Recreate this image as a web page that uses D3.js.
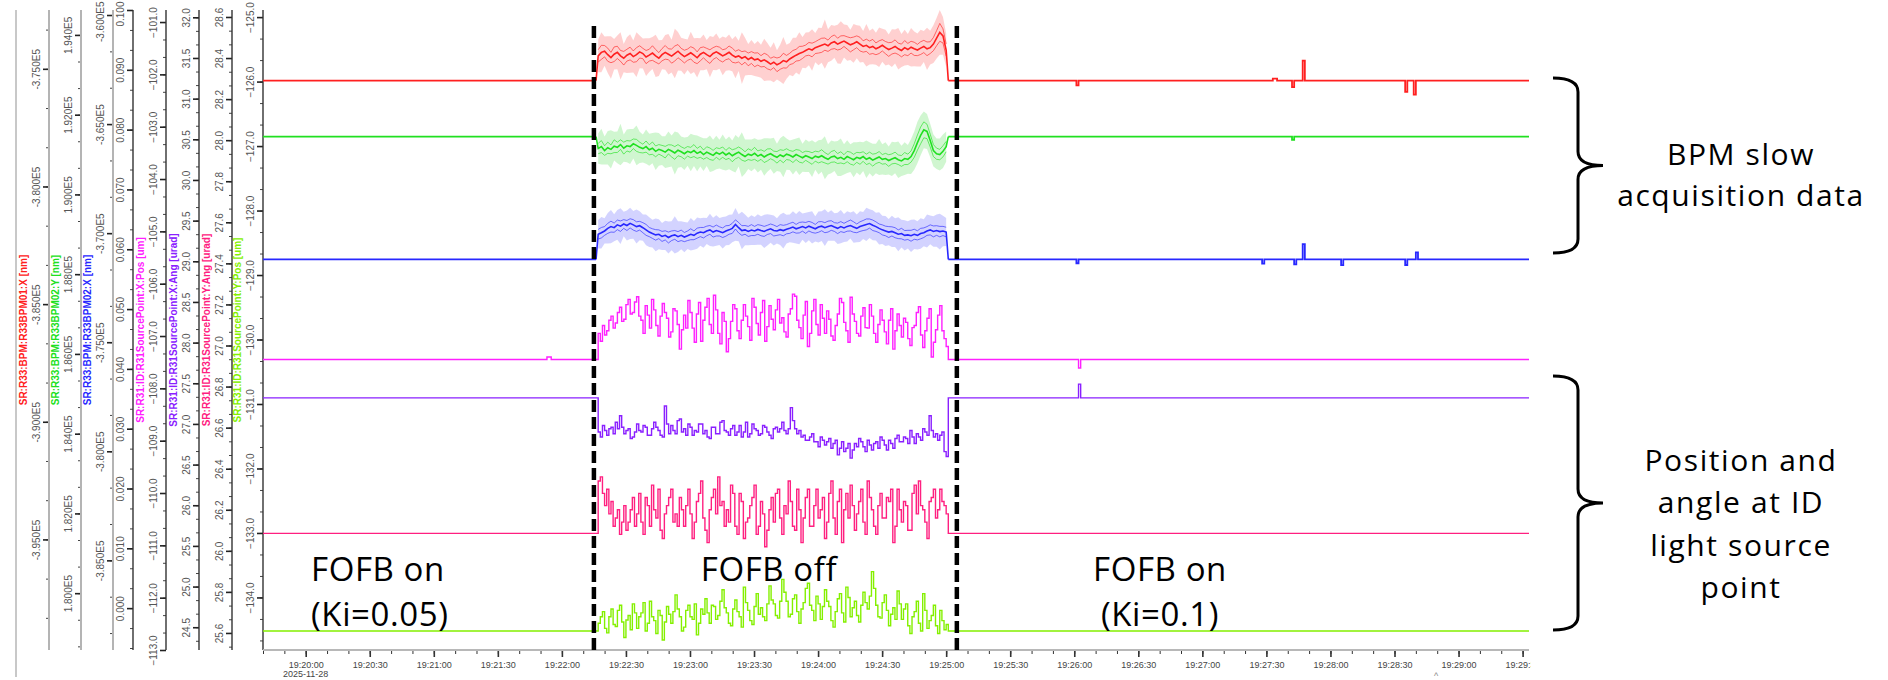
<!DOCTYPE html>
<html><head><meta charset="utf-8">
<script src="https://cdn.jsdelivr.net/npm/d3@7"></script>
<style>body{margin:0;background:#fff}svg{display:block}</style>
</head><body>
<svg id="c" width="1888" height="680"></svg>
<script>
// ================= DATA =================
const dateStr = "2025-11-28";
const timeStart = "19:19:40", timeEnd = "19:29:33";
const offStart = "19:22:17", offEnd = "19:25:00";
const markerTimes = ["19:22:15", "19:25:05"];

const axisNames = [
  "SR:R33:BPM:R33BPM01:X [nm]", "SR:R33:BPM:R33BPM02:Y [nm]", "SR:R33:BPM:R33BPM02:X [nm]", "",
  "SR:R31:ID:R31SourcePoint:X:Pos [um]", "SR:R31:ID:R31SourcePoint:X:Ang [urad]",
  "SR:R31:ID:R31SourcePoint:Y:Ang [urad]", "SR:R31:ID:R31SourcePoint:Y:Pos [um]"
];
const axisDomains = [
  [-399700, -372500], [178575, 194625], [-389110, -359770], [-0.007, 0.1],
  [-113.0, -100.77], [24.22, 32.09], [25.517, 28.634], [-134.815, -124.89]
];
const ticksRed = [-395000, -390000, -385000, -380000, -375000];
const ticksGreen = [180000, 182000, 184000, 186000, 188000, 190000, 192000, 194000];
const ticksBlue = [-385000, -380000, -375000, -370000, -365000, -360000];
const ticksAux = [0.000, 0.010, 0.020, 0.030, 0.040, 0.050, 0.060, 0.070, 0.080, 0.090, 0.100];
const ticksXPos = [-113, -112, -111, -110, -109, -108, -107, -106, -105, -104, -103, -102, -101];
const ticksXAng = [24.5, 25.0, 25.5, 26.0, 26.5, 27.0, 27.5, 28.0, 28.5, 29.0, 29.5, 30.0, 30.5, 31.0, 31.5, 32.0];
const ticksYAng = [25.6, 25.8, 26.0, 26.2, 26.4, 26.6, 26.8, 27.0, 27.2, 27.4, 27.6, 27.8, 28.0, 28.2, 28.4, 28.6];
const ticksYPos = [-134, -133, -132, -131, -130, -129, -128, -127, -126, -125];

// ---- BPM01:X (red) ----
const redPre = [["19:19:40", -375500], ["19:22:16", -375500]];
const redMean = [
  -374450, -374300, -374250, -374400, -374520, -374380, -374300, -374450, -374550, -374420,
  -374350, -374480, -374400, -374280, -374350, -374500, -374420, -374330, -374450, -374550,
  -374400, -374300, -374380, -374460, -374350, -374250, -374380, -374480, -374400, -374320,
  -374420, -374530, -374380, -374300, -374400, -374480, -374350, -374280, -374360, -374450,
  -374380, -374300, -374420, -374500, -374450, -374550, -374480, -374600, -374520, -374620,
  -374580, -374680, -374620, -374700, -374800, -374720, -374830, -374760, -374650, -374700,
  -374580, -374500, -374420, -374350, -374300, -374220, -374150, -374200, -374100, -374050,
  -374000, -373950, -374020, -373900, -373850, -373950, -373880, -373820, -373900, -373980,
  -373920, -373850, -373950, -374050, -374000, -374100, -374050, -374150, -374080, -374000,
  -374100, -374180, -374120, -374050, -374150, -374220, -374100, -374180, -374080, -374150,
  -374200, -374120, -374050, -374150, -374100, -373950, -373700, -373450, -373600, -374200];
const redStd = [
  260,300,240,280,220,310,260,230,290,250, 270,240,300,260,220,280,250,310,270,240,
  260,290,230,300,320,280,250,270,240,260, 300,250,280,230,270,290,250,240,280,260,
  230,270,300,250,260,280,240,270,250,290, 260,240,280,300,250,230,290,260,310,270,
  240,280,250,300,260,230,270,290,250,280, 300,260,240,270,290,250,280,230,260,300,
  270,250,290,240,260,280,300,250,270,240, 260,290,250,280,240,270,300,260,250,280,
  240,270,260,290,250,280,320,380,300,260];
const redExt = [
  700,850,620,780,900,650,720,1000,600,760, 820,680,950,700,640,800,720,680,900,760,
  620,740,860,700,1050,820,700,760,650,900, 720,840,680,760,620,880,700,780,640,820,
  700,760,680,900,640,1100,800,660,740,680, 760,700,900,800,700,850,620,780,1000,720,
  680,820,740,900,650,760,700,880,620,800, 740,1050,700,760,680,820,900,700,760,640,
  820,700,780,660,900,720,760,680,840,700, 760,640,800,720,880,700,760,660,820,740,
  700,780,660,900,720,800,860,950,800,700];
const redPost = [["19:25:01", -375500], ["19:26:00", -375500], ["19:26:01", -375700], ["19:26:02", -375500],
  ["19:27:33", -375420], ["19:27:35", -375500], ["19:27:41", -375500], ["19:27:42", -375780], ["19:27:43", -375500],
  ["19:27:46", -375500], ["19:27:47", -374650], ["19:27:48", -375500], ["19:28:34", -375500], ["19:28:35", -375980],
  ["19:28:36", -375500], ["19:28:38", -375500], ["19:28:39", -376100], ["19:28:40", -375500], ["19:29:33", -375500]];

// ---- BPM02:Y (green) ----
const greenPre = [["19:19:40", 191450], ["19:22:16", 191450]];
const greenMean = [
  191150, 191200, 191100, 191170, 191130, 191210, 191180, 191250, 191160, 191220,
  191200, 191270, 191230, 191180, 191150, 191200, 191120, 191160, 191080, 191130,
  191100, 191060, 191130, 191090, 191040, 191110, 191070, 191020, 191080, 191050,
  191100, 191030, 191070, 191000, 191060, 191020, 190980, 191050, 191010, 191060,
  190990, 191040, 190970, 191020, 191060, 191000, 190950, 191010, 190980, 191030,
  190960, 191000, 190940, 190990, 191020, 190970, 190930, 190990, 190950, 191010,
  190980, 190940, 191000, 190960, 190920, 190970, 190940, 190900, 190960, 190930,
  190970, 190920, 190880, 190940, 190960, 190900, 190930, 190880, 190950, 190910,
  190870, 190930, 190900, 190950, 190880, 190920, 190860, 190900, 190940, 190880,
  190900, 190850, 190890, 190920, 190870, 190840, 190900, 190880, 190950, 191100,
  191300, 191480, 191620, 191580, 191350, 191100, 191020, 191000, 191080, 191200];
const greenStd = [
  130,150,120,140,110,160,130,120,150,130, 140,120,150,130,110,140,125,155,135,120,
  130,145,115,150,160,140,125,135,120,130, 150,125,140,115,135,145,125,120,140,130,
  115,135,150,125,130,140,120,135,125,150, 130,120,140,150,125,115,145,130,155,135,
  120,140,125,150,130,115,135,145,125,140, 150,130,120,135,145,125,140,115,130,150,
  135,125,145,120,130,140,150,125,135,120, 130,145,125,140,120,135,150,130,140,170,
  190,210,200,180,160,150,140,130,140,130];
const greenExt = [
  380,450,350,420,480,360,400,520,340,410, 440,370,500,390,350,430,400,380,470,410,
  360,400,450,390,540,440,380,410,360,470, 390,450,370,410,350,460,390,420,360,440,
  390,410,380,470,360,560,430,370,400,380, 410,380,470,420,380,450,340,420,520,390,
  370,440,400,470,350,410,380,460,340,430, 400,540,380,410,370,440,470,380,410,350,
  440,380,420,360,470,390,410,370,450,380, 410,350,430,390,460,380,410,360,440,480,
  520,500,460,440,420,400,380,400,420,380];
const greenPost = [["19:25:01", 191450], ["19:27:41", 191450], ["19:27:42", 191370], ["19:27:43", 191450], ["19:29:33", 191450]];

// ---- BPM02:X (blue) ----
const bluePre = [["19:19:40", -371200], ["19:22:16", -371200]];
const blueMean = [
  -370050, -369980, -369900, -369780, -369700, -369750, -369620, -369680, -369580, -369650,
  -369550, -369620, -369700, -369660, -369750, -369850, -369950, -370020, -370080, -370050,
  -370150, -370100, -370200, -370120, -370080, -370160, -370100, -370180, -370120, -370050,
  -370100, -370000, -369950, -369980, -369900, -369850, -369950, -369880, -369920, -369980,
  -369900, -369850, -369780, -369600, -369750, -369880, -369850, -369920, -369860, -369900,
  -369830, -369880, -369920, -369850, -369800, -369880, -369900, -369840, -369880, -369820,
  -369780, -369720, -369800, -369750, -369700, -369760, -369680, -369740, -369800, -369720,
  -369680, -369750, -369700, -369650, -369720, -369780, -369700, -369760, -369690, -369650,
  -369720, -369780, -369700, -369650, -369600, -369560, -369640, -369700, -369780, -369850,
  -369900, -369950, -369920, -369980, -370050, -370020, -370100, -370080, -370120, -370050,
  -370100, -370020, -369980, -369900, -369850, -369920, -369880, -369930, -369900, -369950];
const blueStd = [
  220,240,200,230,250,210,220,240,200,230, 210,240,220,200,230,250,210,220,240,200,
  230,210,250,220,200,230,240,210,220,250, 200,230,210,240,220,200,230,250,210,220,
  240,200,230,210,240,220,200,230,250,210, 220,240,230,210,220,250,200,230,240,210,
  230,220,200,240,210,250,220,230,200,240, 210,230,250,220,200,240,230,210,220,250,
  240,200,220,230,250,210,240,220,200,230, 220,250,210,230,200,240,220,210,250,230,
  210,240,220,200,230,250,220,240,210,220];
const blueExt = [
  650,720,580,700,760,620,680,820,560,690, 720,640,780,660,600,700,680,640,750,690,
  620,670,730,660,850,700,640,690,610,740, 660,720,630,690,600,740,660,700,620,720,
  660,690,640,750,620,860,700,630,680,640, 700,650,760,720,640,690,580,700,820,660,
  640,720,680,760,600,690,650,740,580,710, 680,840,650,700,630,720,760,640,690,600,
  720,640,700,620,760,660,690,640,740,650, 690,600,720,660,780,640,690,620,740,680,
  650,700,620,760,660,700,740,820,700,640];
const bluePost = [["19:25:01", -371200], ["19:26:00", -371200], ["19:26:01", -371380], ["19:26:02", -371200],
  ["19:27:27", -371200], ["19:27:28", -371400], ["19:27:29", -371200], ["19:27:42", -371200], ["19:27:43", -371430],
  ["19:27:44", -371200], ["19:27:46", -371200], ["19:27:47", -370500], ["19:27:48", -371200], ["19:28:04", -371200],
  ["19:28:05", -371470], ["19:28:06", -371200], ["19:28:34", -371200], ["19:28:35", -371460], ["19:28:36", -371200],
  ["19:28:39", -371200], ["19:28:40", -370880], ["19:28:41", -371200], ["19:29:33", -371200]];

// ---- SourcePoint X:Pos (magenta) ----
const xPosPre = [["19:19:40", -107.45], ["19:21:52", -107.45], ["19:21:53", -107.40], ["19:21:55", -107.45], ["19:22:16", -107.45]];
const xPosOff = [
  -106.95, -107.10, -106.80, -106.98, -106.90, -106.70, -106.62, -106.85, -106.75, -106.55,
  -106.45, -106.72, -106.68, -106.40, -106.30, -106.58, -106.55, -106.35, -106.25, -106.62,
  -106.70, -106.95, -106.42, -106.60, -106.85, -106.30, -106.50, -106.80, -107.00, -106.62,
  -106.38, -106.55, -106.66, -107.02, -106.92, -106.48, -106.52, -106.78, -107.25, -106.88,
  -106.60, -106.85, -106.32, -106.55, -106.85, -107.12, -106.58, -106.36, -107.10, -106.70,
  -106.45, -106.28, -106.78, -106.95, -106.22, -106.50, -106.95, -107.15, -106.55, -106.72,
  -107.30, -107.05, -106.72, -106.40, -106.48, -106.90, -107.05, -106.70, -106.40, -106.62,
  -106.82, -107.08, -106.28, -106.45, -106.76, -106.98, -106.55, -106.32, -107.10, -106.82,
  -106.42, -106.68, -106.88, -106.50, -106.30, -106.75, -106.65, -106.92, -107.02, -106.58,
  -106.48, -106.20, -106.24, -106.70, -106.84, -107.05, -106.60, -106.34, -107.20, -106.95,
  -106.52, -106.30, -106.78, -106.98, -106.40, -106.66, -106.95, -106.52, -106.68, -107.00,
  -107.08, -106.80, -106.58, -106.28, -106.36, -106.74, -106.90, -107.12, -106.26, -106.58,
  -106.72, -106.95, -107.00, -106.62, -106.46, -106.84, -106.85, -106.40, -106.62, -106.95,
  -107.12, -106.78, -106.50, -106.70, -106.92, -107.15, -106.70, -106.48, -107.25, -106.90,
  -106.58, -106.80, -107.02, -106.66, -106.74, -107.05, -107.18, -106.84, -106.80, -106.55,
  -106.44, -106.98, -107.22, -106.90, -106.66, -106.48, -107.40, -107.12, -106.88, -106.60,
  -106.42, -106.90, -107.05, -107.20];
const xPosPost = [["19:25:01", -107.45], ["19:26:01", -107.45], ["19:26:02", -107.61], ["19:26:03", -107.45], ["19:29:33", -107.45]];

// ---- SourcePoint X:Ang (purple) ----
const xAngPre = [["19:19:40", 27.32], ["19:22:16", 27.32]];
const xAngOff = [
  26.90, 26.84, 26.98, 26.92, 26.86, 26.94, 26.96, 26.88, 27.02, 26.94,
  27.10, 26.96, 26.88, 26.92, 26.94, 26.82, 26.84, 26.90, 27.00, 26.92,
  26.90, 26.98, 26.96, 26.86, 26.86, 26.94, 27.02, 26.96, 26.92, 26.86,
  26.84, 27.22, 27.00, 26.88, 26.98, 26.92, 26.88, 27.04, 27.06, 26.90,
  26.94, 26.86, 27.00, 26.96, 26.86, 26.92, 26.90, 27.00, 27.00, 26.88,
  26.92, 26.84, 26.82, 26.96, 26.96, 26.88, 26.88, 27.02, 27.04, 26.92,
  26.90, 26.86, 26.94, 26.98, 26.86, 26.90, 26.98, 26.84, 26.90, 27.02,
  26.84, 26.88, 27.00, 26.94, 26.92, 26.86, 26.88, 26.98, 26.96, 26.90,
  26.86, 26.82, 26.94, 26.96, 26.90, 26.94, 27.02, 26.92, 26.88, 26.94,
  27.20, 27.04, 26.94, 26.88, 26.92, 26.84, 26.86, 26.80, 26.80, 26.84,
  26.88, 26.78, 26.78, 26.72, 26.84, 26.80, 26.74, 26.78, 26.82, 26.70,
  26.76, 26.80, 26.62, 26.70, 26.78, 26.66, 26.70, 26.76, 26.58, 26.68,
  26.76, 26.72, 26.82, 26.78, 26.72, 26.66, 26.80, 26.74, 26.68, 26.76,
  26.78, 26.70, 26.84, 26.80, 26.74, 26.68, 26.80, 26.76, 26.70, 26.82,
  26.86, 26.78, 26.78, 26.84, 26.82, 26.76, 26.92, 26.84, 26.76, 26.88,
  26.84, 26.80, 26.94, 26.90, 26.86, 27.10, 26.92, 26.84, 26.88, 26.80,
  26.86, 26.90, 26.66, 26.60];
const xAngPost = [["19:25:01", 27.32], ["19:26:01", 27.32], ["19:26:02", 27.49], ["19:26:03", 27.32], ["19:29:33", 27.32]];

// ---- SourcePoint Y:Ang (pink) ----
const yAngPre = [["19:19:40", 26.085], ["19:22:16", 26.085]];
const yAngOff = [
  26.34, 26.36, 26.28, 26.22, 26.30, 26.18, 26.24, 26.12, 26.16, 26.20,
  26.08, 26.14, 26.22, 26.10, 26.14, 26.20, 26.26, 26.12, 26.18, 26.28,
  26.14, 26.08, 26.26, 26.22, 26.12, 26.32, 26.20, 26.16, 26.30, 26.10,
  26.06, 26.18, 26.22, 26.26, 26.30, 26.14, 26.18, 26.12, 26.26, 26.20,
  26.12, 26.22, 26.30, 26.18, 26.06, 26.14, 26.24, 26.28, 26.34, 26.16,
  26.10, 26.04, 26.20, 26.26, 26.30, 26.18, 26.36, 26.22, 26.24, 26.12,
  26.20, 26.14, 26.32, 26.28, 26.12, 26.08, 26.28, 26.24, 26.06, 26.14,
  26.16, 26.22, 26.26, 26.32, 26.08, 26.12, 26.24, 26.18, 26.02, 26.10,
  26.20, 26.26, 26.14, 26.28, 26.30, 26.16, 26.08, 26.22, 26.18, 26.34,
  26.24, 26.12, 26.10, 26.30, 26.20, 26.04, 26.16, 26.26, 26.30, 26.12,
  26.12, 26.22, 26.30, 26.16, 26.20, 26.26, 26.06, 26.14, 26.28, 26.34,
  26.16, 26.08, 26.24, 26.30, 26.04, 26.20, 26.28, 26.16, 26.32, 26.22,
  26.10, 26.18, 26.24, 26.30, 26.14, 26.08, 26.34, 26.26, 26.20, 26.12,
  26.08, 26.22, 26.28, 26.16, 26.16, 26.26, 26.24, 26.30, 26.04, 26.12,
  26.30, 26.20, 26.14, 26.24, 26.22, 26.10, 26.10, 26.28, 26.32, 26.18,
  26.34, 26.22, 26.20, 26.14, 26.06, 26.24, 26.26, 26.30, 26.16, 26.20,
  26.30, 26.24, 26.22, 26.18];
const yAngPost = [["19:25:01", 26.085], ["19:29:33", 26.085]];

// ---- SourcePoint Y:Pos (yellow-green) ----
const yPosPre = [["19:19:40", -134.52], ["19:22:16", -134.52]];
const yPosOff = [
  -134.40, -134.30, -134.22, -134.48, -134.55, -134.30, -134.18, -134.42, -134.45, -134.20,
  -134.12, -134.38, -134.62, -134.35, -134.28, -134.50, -134.10, -134.24, -134.48, -134.30,
  -134.24, -134.08, -134.52, -134.40, -134.06, -134.30, -134.36, -134.56, -134.20, -134.28,
  -134.66, -134.38, -134.14, -134.26, -134.40, -134.22, -133.96, -134.18, -134.30, -134.52,
  -134.46, -134.20, -134.12, -134.30, -134.34, -134.10, -134.58, -134.40, -134.18, -134.26,
  -134.02, -134.24, -134.40, -134.12, -134.14, -134.34, -134.28, -134.06, -133.88, -134.16,
  -134.24, -134.40, -134.44, -134.18, -134.04, -134.22, -134.30, -134.46, -133.84, -134.08,
  -134.20, -134.36, -134.42, -134.14, -133.94, -134.26, -134.16, -134.30, -134.36, -134.10,
  -133.82, -134.04, -134.10, -134.28, -134.32, -134.06, -133.72, -133.92, -134.06, -134.30,
  -134.26, -134.02, -133.96, -134.22, -134.40, -134.18, -134.08, -133.86, -133.78, -134.12,
  -134.20, -134.36, -133.98, -134.10, -134.34, -134.14, -133.88, -134.06, -134.14, -134.36,
  -134.46, -134.22, -134.02, -133.94, -134.24, -134.38, -133.84, -134.00, -134.30, -134.16,
  -134.06, -134.28, -134.38, -134.12, -133.92, -134.08, -134.18, -133.98, -133.60, -133.86,
  -134.12, -134.30, -134.32, -134.08, -133.96, -134.20, -134.44, -134.26, -134.16, -134.34,
  -133.90, -134.10, -134.34, -134.18, -134.10, -134.44, -134.56, -134.30, -134.22, -134.06,
  -134.40, -134.52, -133.94, -134.20, -134.48, -134.36, -134.28, -134.12, -134.44, -134.56,
  -134.20, -134.36, -134.50, -134.42];
const yPosPost = [["19:25:01", -134.52], ["19:29:33", -134.52]];

const annotBottom = [["FOFB on", "(Ki=0.05)"], ["FOFB off"], ["FOFB on", "(Ki=0.1)"]];
const annotRight = [["BPM slow", "acquisition data"], ["Position and", "angle at ID", "light source", "point"]];

// ================= CHART =================
const parse = d3.timeParse("%Y-%m-%d %H:%M:%S");
const T = s => parse(dateStr + " " + s);
const svg = d3.select("#c");
const TOP = 10, BOT = 650, LEFT = 263, RIGHT = 1529;

const x = d3.scaleTime().domain([T(timeStart), T(timeEnd)]).range([LEFT, RIGHT]);

const colors = ["#ff2020", "#20e020", "#2828ff", "#000", "#ff20ff", "#8a20ff", "#ff2080", "#84f000"];
const fills = ["#ffc8c8", "#c8f4c8", "#cbcbff"];
const spines = [49, 81, 113, 133, 166, 199, 232, 263];
const tickSets = [ticksRed, ticksGreen, ticksBlue, ticksAux, ticksXPos, ticksXAng, ticksYAng, ticksYPos];
const fmtE5 = v => (v / 1e5).toFixed(3) + "E5";
const fmts = [fmtE5, fmtE5, fmtE5, d3.format(".3f"), d3.format(".1f"), d3.format(".1f"), d3.format(".1f"), d3.format(".1f")];

const yScales = axisDomains.map(d => d3.scaleLinear().domain(d).range([BOT, TOP]));

// outer frame line
svg.append("line").attr("x1", 16).attr("x2", 16).attr("y1", TOP).attr("y2", 677)
  .attr("stroke", "#c8c8c8").attr("stroke-width", 2);

// left axes
yScales.forEach((y, i) => {
  const sx = spines[i];
  const tv = tickSets[i];
  const step = tv[1] - tv[0];
  const dom = axisDomains[i];
  const minor = d3.range(-60, 60).map(k => tv[0] + k * step / 3)
    .filter(v => v >= dom[0] && v <= dom[1]);
  const g = svg.append("g").attr("transform", `translate(${sx},0)`);
  g.call(d3.axisLeft(y).tickValues(minor).tickSize(3).tickFormat(""))
    .call(a => a.select(".domain").remove());
  g.selectAll(".tick line").attr("stroke", "#444");
  const gm = svg.append("g").attr("transform", `translate(${sx},0)`);
  gm.call(d3.axisLeft(y).tickValues(tv).tickSize(6).tickFormat(fmts[i]));
  gm.select(".domain").remove();
  gm.selectAll(".tick line").attr("stroke", "#222").attr("stroke-width", 1.6);
  gm.selectAll(".tick text")
    .attr("x", null).attr("dy", null)
    .attr("text-anchor", "middle").attr("dominant-baseline", "central")
    .attr("fill", "#555").attr("font-size", 10)
    .attr("font-family", "Liberation Sans, Arial, sans-serif")
    .each(function (d) {
      const half = this.getComputedTextLength() / 2;
      const yy = y(d);
      let shift = 0;
      if (yy - half < 1) shift = 1 - (yy - half);
      if (yy + half > 679) shift = 679 - (yy + half);
      d3.select(this).attr("transform", `translate(-13,${shift}) rotate(-90)`);
    });
  svg.append("line").attr("x1", sx).attr("x2", sx).attr("y1", TOP).attr("y2", BOT)
    .attr("stroke", i < 3 ? "#b4b4b4" : "#333").attr("stroke-width", i < 3 ? 2 : 1.4);
  if (axisNames[i]) {
    svg.append("text")
      .attr("transform", `translate(${sx - 26},${(TOP + BOT) / 2}) rotate(-90)`)
      .attr("text-anchor", "middle").attr("dominant-baseline", "central")
      .attr("fill", colors[i]).attr("font-size", 10).attr("font-weight", "bold")
      .attr("font-family", "Liberation Sans, Arial, sans-serif")
      .text(axisNames[i]);
  }
});

// time axis
const defs = svg.append("defs");
defs.append("clipPath").attr("id", "axclip")
  .append("rect").attr("x", 0).attr("y", 0).attr("width", RIGHT + 2).attr("height", 680);
defs.append("clipPath").attr("id", "plotclip")
  .append("rect").attr("x", LEFT).attr("y", 0).attr("width", RIGHT - LEFT).attr("height", BOT);
const xAxisG = svg.append("g").attr("transform", `translate(0,${BOT})`).attr("clip-path", "url(#axclip)");
xAxisG.append("g").call(d3.axisBottom(x).ticks(d3.timeSecond.every(10)).tickSize(4).tickFormat(""))
  .call(a => a.select(".domain").remove());
const xMaj = xAxisG.append("g").call(d3.axisBottom(x).ticks(d3.timeSecond.every(30)).tickSize(7)
  .tickFormat(d3.timeFormat("%H:%M:%S")));
xMaj.select(".domain").remove();
xAxisG.selectAll(".tick line").attr("stroke", "#333");
xMaj.selectAll(".tick line").attr("stroke-width", 1.6);
xMaj.selectAll(".tick text").attr("fill", "#444").attr("font-size", 9).attr("dy", "0.9em")
  .attr("font-family", "Liberation Sans, Arial, sans-serif");
svg.append("line").attr("x1", LEFT).attr("x2", RIGHT).attr("y1", BOT).attr("y2", BOT)
  .attr("stroke", "#b8b8b8").attr("stroke-width", 2);
svg.append("text").attr("x", x(T("19:20:00"))).attr("y", 677).attr("text-anchor", "middle")
  .attr("fill", "#444").attr("font-size", 9).attr("font-family", "Liberation Sans, Arial, sans-serif")
  .text(dateStr);
svg.append("text").attr("x", 1436).attr("y", 679).attr("text-anchor", "middle")
  .attr("fill", "#888").attr("font-size", 9).attr("font-family", "Liberation Sans, Arial, sans-serif").text("^");

// series
const plot = svg.append("g").attr("clip-path", "url(#plotclip)");
const toPts = arr => arr.map(d => ({ t: T(d[0]), v: d[1] }));
const offTimes = n => { const t0 = +T(offStart), t1 = +T(offEnd); return d3.range(n).map(i => new Date(t0 + (t1 - t0) * i / (n - 1))); };

const bpm = [
  { ax: 0, pre: redPre, mean: redMean, std: redStd, ext: redExt, post: redPost },
  { ax: 1, pre: greenPre, mean: greenMean, std: greenStd, ext: greenExt, post: greenPost },
  { ax: 2, pre: bluePre, mean: blueMean, std: blueStd, ext: blueExt, post: bluePost }
];
bpm.forEach(s => {
  const y = yScales[s.ax], c = colors[s.ax];
  const ts = offTimes(s.mean.length);
  const off = s.mean.map((v, i) => ({ t: ts[i], v, sd: s.std[i], ex: s.ext[i] }));
  plot.append("path").datum(off)
    .attr("d", d3.area().x(d => x(d.t)).y0(d => y(d.v - d.ex)).y1(d => y(d.v + d.ex)))
    .attr("fill", fills[s.ax]).attr("opacity", 0.85);
  [1, -1].forEach(sg => {
    plot.append("path").datum(off)
      .attr("d", d3.line().x(d => x(d.t)).y(d => y(d.v + sg * d.sd)))
      .attr("fill", "none").attr("stroke", c).attr("stroke-width", 0.9).attr("opacity", 0.7);
  });
  const pre = toPts(s.pre), post = toPts(s.post);
  const stepLine = d3.line().x(d => x(d.t)).y(d => y(d.v)).curve(d3.curveStepAfter);
  plot.append("path").datum(pre).attr("d", stepLine).attr("fill", "none").attr("stroke", c).attr("stroke-width", 1.8);
  plot.append("path").datum(post).attr("d", stepLine).attr("fill", "none").attr("stroke", c).attr("stroke-width", 1.8);
  plot.append("path").datum([pre[pre.length - 1], ...off, post[0]])
    .attr("d", d3.line().x(d => x(d.t)).y(d => y(d.v)))
    .attr("fill", "none").attr("stroke", c).attr("stroke-width", 1.6);
});

const src = [
  { ax: 4, pre: xPosPre, off: xPosOff, post: xPosPost },
  { ax: 5, pre: xAngPre, off: xAngOff, post: xAngPost },
  { ax: 6, pre: yAngPre, off: yAngOff, post: yAngPost },
  { ax: 7, pre: yPosPre, off: yPosOff, post: yPosPost }
];
src.forEach(s => {
  const y = yScales[s.ax];
  const ts = offTimes(s.off.length);
  const pts = [...toPts(s.pre), ...s.off.map((v, i) => ({ t: ts[i], v })), ...toPts(s.post)];
  plot.append("path").datum(pts)
    .attr("d", d3.line().x(d => x(d.t)).y(d => y(d.v)).curve(d3.curveStepAfter))
    .attr("fill", "none").attr("stroke", colors[s.ax]).attr("stroke-width", 1.4);
});

// dashed markers
markerTimes.forEach(m => {
  svg.append("line").attr("x1", x(T(m))).attr("x2", x(T(m))).attr("y1", 26).attr("y2", BOT)
    .attr("stroke", "#000").attr("stroke-width", 4.5).attr("stroke-dasharray", "12,5");
});

// annotations
const F = "'Open Sans', Lato, sans-serif";
const bottomPos = [[311, "start"], [769, "middle"], [1160, "middle"]];
annotBottom.forEach((lines, i) => {
  lines.forEach((t, j) => {
    svg.append("text").attr("x", bottomPos[i][0]).attr("y", 581 + j * 45)
      .attr("text-anchor", bottomPos[i][1]).attr("font-family", F).attr("font-size", 33)
      .attr("letter-spacing", 0.6).attr("fill", "#000").text(t);
  });
});
const braces = [[78, 253], [376, 630]];
const bx = 1578, bw = 25, br = 14;
braces.forEach(([y0, y1]) => {
  const m = (y0 + y1) / 2;
  const p = d3.path();
  p.moveTo(bx - bw, y0); p.quadraticCurveTo(bx, y0, bx, y0 + br);
  p.lineTo(bx, m - br); p.quadraticCurveTo(bx, m, bx + bw, m);
  p.quadraticCurveTo(bx, m, bx, m + br);
  p.lineTo(bx, y1 - br); p.quadraticCurveTo(bx, y1, bx - bw, y1);
  svg.append("path").attr("d", p.toString()).attr("fill", "none").attr("stroke", "#000").attr("stroke-width", 3);
});
const rightLines = [[165, 206], [471, 513, 556, 598]];
annotRight.forEach((lines, i) => {
  lines.forEach((t, j) => {
    svg.append("text").attr("x", 1741).attr("y", rightLines[i][j])
      .attr("text-anchor", "middle").attr("font-family", F).attr("font-size", 30)
      .attr("letter-spacing", 1.6).attr("fill", "#000").text(t);
  });
});
</script>
</body></html>
